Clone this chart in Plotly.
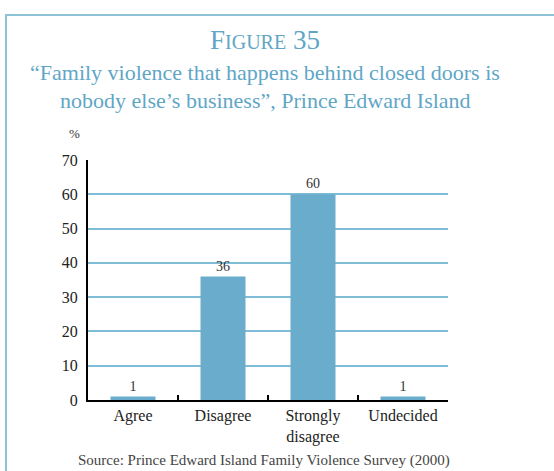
import plotly.graph_objects as go

categories = ["Agree", "Disagree", "Strongly<br>disagree", "Undecided"]
values = [1, 36, 60, 1]
y_ticks = [0, 10, 20, 30, 40, 50, 60, 70]

title_blue = "#5fa6c6"
bar_blue = "#6aaccb"
grid_blue = "#7fbcd6"
serif = "Liberation Serif"

fig = go.Figure()
fig.add_bar(
    x=categories, y=values, width=0.5,
    marker=dict(color=bar_blue, line=dict(width=0)),
    text=[str(v) for v in values], textposition="outside",
    textfont=dict(family=serif, size=14, color="#333333"),
    cliponaxis=False,
)

# plot area: x 88..448, y 160..400 in pixels
W, H = 554, 471
L, R, T, B = 88, 448, 160, 400

def px_x(x):
    return (x - L) / (R - L)

def px_y(y):
    return (B - y) / (B - T)

fig.add_shape(type="rect", xref="paper", yref="paper",
              x0=px_x(6), x1=px_x(580), y0=px_y(15), y1=px_y(500),
              line=dict(color="#8ec3d7", width=2), fillcolor="rgba(0,0,0,0)", layer="below")

fig.add_annotation(xref="paper", yref="paper", x=px_x(265), y=px_y(40),
                   text="F<span style='font-size:20px'>IGURE</span> 35", showarrow=False,
                   font=dict(family=serif, size=27, color=title_blue), xanchor="center", yanchor="middle")
fig.add_annotation(xref="paper", yref="paper", x=px_x(265), y=px_y(73),
                   text="“Family violence that happens behind closed doors is", showarrow=False,
                   font=dict(family=serif, size=22, color=title_blue), xanchor="center", yanchor="middle")
fig.add_annotation(xref="paper", yref="paper", x=px_x(265), y=px_y(100),
                   text="nobody else’s business”, Prince Edward Island", showarrow=False,
                   font=dict(family=serif, size=22, color=title_blue), xanchor="center", yanchor="middle")
fig.add_annotation(xref="paper", yref="paper", x=px_x(74), y=px_y(133),
                   text="%", showarrow=False,
                   font=dict(family=serif, size=13, color="#333333"), xanchor="center", yanchor="middle")
fig.add_annotation(xref="paper", yref="paper", x=px_x(264), y=px_y(460),
                   text="Source: Prince Edward Island Family Violence Survey (2000)", showarrow=False,
                   font=dict(family=serif, size=15, color="#444444"), xanchor="center", yanchor="middle")

fig.update_layout(
    width=W, height=H,
    margin=dict(l=L, r=W - R, t=T, b=H - B),
    paper_bgcolor="white", plot_bgcolor="white",
    showlegend=False, bargap=0.5,
    font=dict(family=serif, size=16, color="#222222"),
)
fig.update_xaxes(
    showline=True, linecolor="black", linewidth=2,
    ticks="inside", ticklen=5, tickwidth=2, tickcolor="black",
    tickson="boundaries", showgrid=False,
    tickfont=dict(family=serif, size=16, color="#222222"),
)
fig.update_yaxes(
    range=[0, 70], tickvals=y_ticks,
    showline=True, linecolor="black", linewidth=2,
    ticks="outside", ticklen=5, tickcolor="rgba(0,0,0,0)",
    showgrid=True, gridcolor=grid_blue, gridwidth=1.5,
    zeroline=False,
    tickfont=dict(family=serif, size=16, color="#222222"),
)

fig.write_html("out.html", config={"displayModeBar": False},
               post_script="document.body.style.margin='0';")
